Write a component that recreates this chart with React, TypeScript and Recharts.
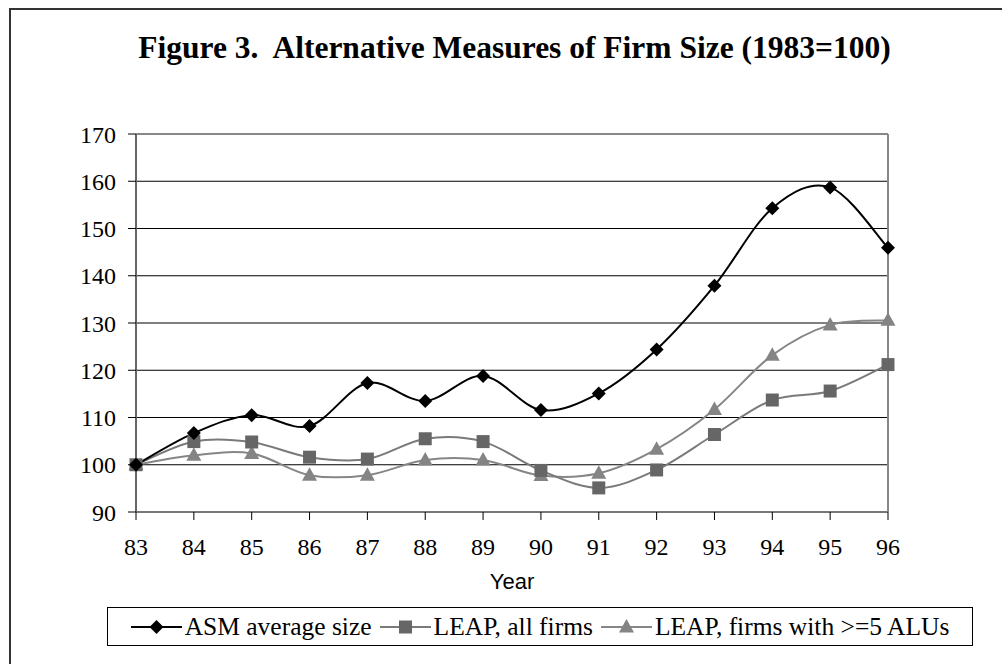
import React from 'react';
import { LineChart, Line, XAxis, YAxis, CartesianGrid, ReferenceLine, Legend } from 'recharts';

// values (1983 = 100)
const years = ['83', '84', '85', '86', '87', '88', '89', '90', '91', '92', '93', '94', '95', '96'];
const asmAverageSize = [100, 106.7, 110.5, 108.2, 117.3, 113.5, 118.8, 111.6, 115.1, 124.4, 137.9, 154.3, 158.7, 145.9];
const leapAllFirms = [100, 104.9, 104.8, 101.6, 101.2, 105.5, 104.9, 98.8, 95.1, 98.9, 106.4, 113.7, 115.6, 121.2];
const leapFirms5Alus = [100, 102, 102.4, 97.8, 97.8, 101, 101, 97.7, 98.2, 103.3, 111.7, 123.2, 129.6, 130.6];
const yTicks = [90, 100, 110, 120, 130, 140, 150, 160, 170];

const SERIES = [
    { key: 'asm', name: 'ASM average size', line: '#000000', fill: '#000000', shape: 'diamond' },
    { key: 'leapAll', name: 'LEAP, all firms', line: '#7a7a7a', fill: '#666666', shape: 'square' },
    { key: 'leap5', name: 'LEAP, firms with >=5 ALUs', line: '#868686', fill: '#848484', shape: 'triangle' }
];

const data = years.map((year, i) => ({
    year,
    asm: asmAverageSize[i],
    leapAll: leapAllFirms[i],
    leap5: leapFirms5Alus[i]
}));

const SERIF = '"Liberation Serif", "Times New Roman", serif';
const SANS = '"Liberation Sans", Arial, sans-serif';

// Excel-style smoothed line (uniform Catmull-Rom as cubic beziers)
const smoothCurve = (context: any) => {
    let pts: number[][] = [];
    return {
        areaStart() {},
        areaEnd() {},
        lineStart() { pts = []; },
        point(x: number, y: number) { pts.push([+x, +y]); },
        lineEnd() {
            const n = pts.length;
            if (!n) return;
            context.moveTo(pts[0][0], pts[0][1]);
            for (let i = 0; i < n - 1; i++) {
                const p0 = pts[i - 1] || pts[i];
                const p1 = pts[i];
                const p2 = pts[i + 1];
                const p3 = pts[i + 2] || p2;
                context.bezierCurveTo(
                    p1[0] + (p2[0] - p0[0]) / 6, p1[1] + (p2[1] - p0[1]) / 6,
                    p2[0] - (p3[0] - p1[0]) / 6, p2[1] - (p3[1] - p1[1]) / 6,
                    p2[0], p2[1]
                );
            }
        }
    };
};

const markerPath = (shape: string, cx: number, cy: number) => {
    if (shape === 'diamond') return `M${cx},${cy - 7}L${cx + 7},${cy}L${cx},${cy + 7}L${cx - 7},${cy}Z`;
    if (shape === 'square') return `M${cx - 6.5},${cy - 6.5}h13v13h-13Z`;
    return `M${cx},${cy - 8}L${cx + 7.5},${cy + 5.5}L${cx - 7.5},${cy + 5.5}Z`;
};

const makeDot = (shape: string, fill: string) => (props: any) => {
    const { cx, cy, index } = props;
    if (cx == null || cy == null) return <g key={`${shape}-${index}`} />;
    return <path key={`${shape}-${index}`} d={markerPath(shape, cx, cy)} fill={fill} stroke="none" />;
};

const LegendBox = () => (
    <div style={{
        width: 866, height: 39, boxSizing: 'border-box', border: '1px solid #000', background: '#fff',
        display: 'flex', alignItems: 'center', justifyContent: 'center', gap: 8,
        fontFamily: SERIF, fontSize: 25.5, color: '#000', whiteSpace: 'nowrap'
    }}>
        {SERIES.map(s => (
            <div key={s.key} style={{ display: 'flex', alignItems: 'center', gap: 3 }}>
                <svg width="51" height="18" viewBox="0 0 51 18" aria-hidden>
                    <line x1="0" y1="9" x2="51" y2="9" stroke={s.line} strokeWidth={2} />
                    <path d={markerPath(s.shape, 25.5, 9)} fill={s.fill} />
                </svg>
                <span>{s.name}</span>
            </div>
        ))}
    </div>
);

const App = () => {
    return (
        <div style={{ position: 'relative', width: 1002, height: 664, overflow: 'hidden', background: '#fff' }}>
            <style>{'body{margin:0}'}</style>
            {/* frame, clipped at right and bottom like the source */}
            <div style={{
                position: 'absolute', left: 9, top: 8, width: 1010, height: 680,
                borderLeft: '2px solid #333', borderTop: '2px solid #333'
            }} />
            <div style={{
                position: 'absolute', left: 0, top: 32, width: 1029, textAlign: 'center',
                fontFamily: SERIF, fontWeight: 'bold', fontSize: 31.5, lineHeight: '31px', whiteSpace: 'pre', color: '#000'
            }}>
                {'Figure 3.  Alternative Measures of Firm Size (1983=100)'}
            </div>
            <div style={{ position: 'absolute', left: 0, top: 0 }}>
                <LineChart width={1002} height={664} data={data} margin={{ top: 134, right: 114, left: 0, bottom: 72 }}>
                    <CartesianGrid vertical={false} stroke="#000" strokeWidth={1} />
                    <XAxis
                        dataKey="year"
                        scale="point"
                        interval={0}
                        height={80}
                        tickSize={8}
                        tickMargin={18}
                        axisLine={{ stroke: '#777', strokeWidth: 2 }}
                        tickLine={{ stroke: '#000' }}
                        tick={{ fill: '#000', fontFamily: SERIF, fontSize: 24 }}
                        label={{ value: 'Year', position: 'insideBottom', offset: 3, fill: '#000', fontFamily: SANS, fontSize: 22 }}
                    />
                    <YAxis
                        width={136}
                        domain={[90, 170]}
                        ticks={yTicks}
                        interval={0}
                        tickSize={8}
                        tickMargin={12}
                        axisLine={{ stroke: '#666', strokeWidth: 2 }}
                        tickLine={{ stroke: '#000' }}
                        tick={{ fill: '#000', fontFamily: SERIF, fontSize: 24 }}
                    />
                    <ReferenceLine y={170} stroke="#888" strokeWidth={2} />
                    <ReferenceLine x="96" stroke="#888" strokeWidth={2} />
                    <Legend
                        layout="vertical"
                        align="center"
                        verticalAlign="middle"
                        content={LegendBox}
                        wrapperStyle={{ left: 107, top: 607, width: 866, height: 39 }}
                    />
                    {SERIES.slice().reverse().map(s => (
                        <Line
                            key={s.key}
                            dataKey={s.key}
                            name={s.name}
                            type={smoothCurve as any}
                            stroke={s.line}
                            strokeWidth={2}
                            dot={makeDot(s.shape, s.fill)}
                            activeDot={false}
                            isAnimationActive={false}
                        />
                    ))}
                </LineChart>
            </div>
        </div>
    );
};

export default App;
